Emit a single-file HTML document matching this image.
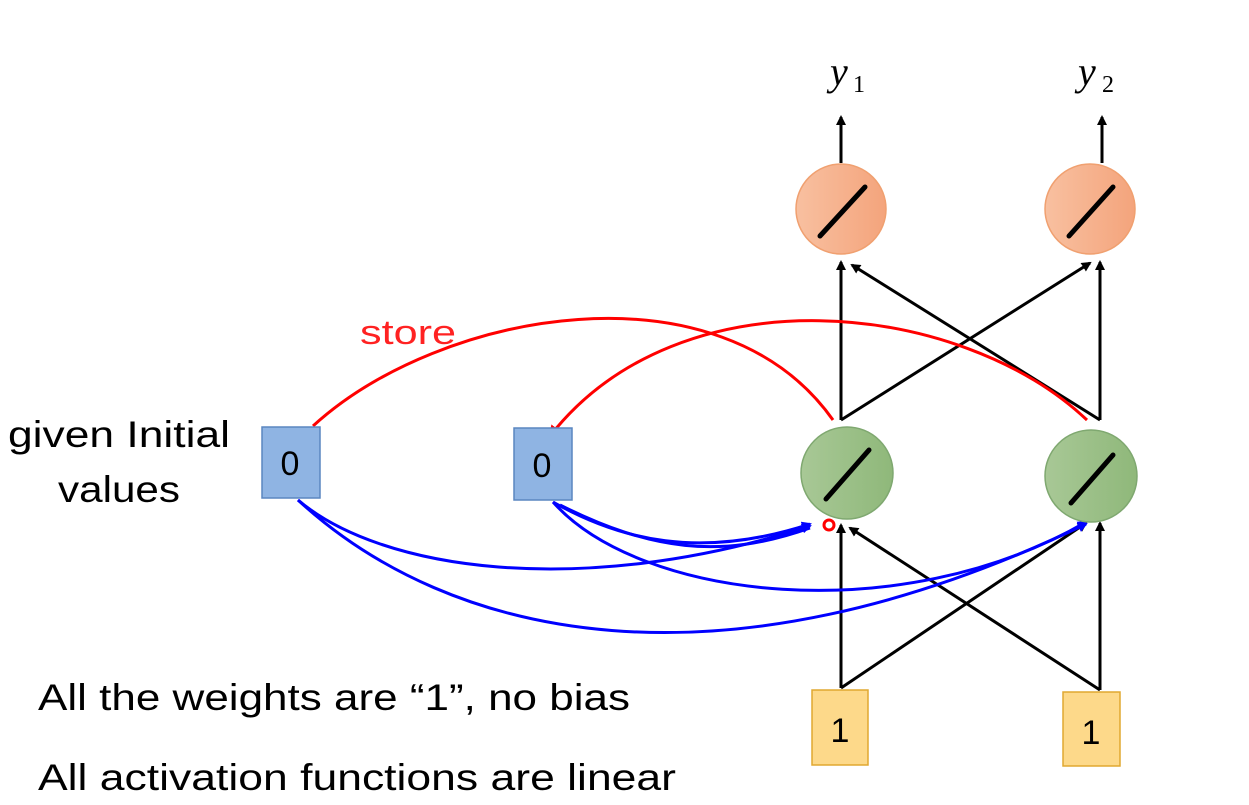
<!DOCTYPE html>
<html><head><style>
body{margin:0;background:#fff;width:1249px;height:800px;overflow:hidden;font-family:"Liberation Sans",sans-serif}
</style></head><body>
<svg width="1249" height="800" viewBox="0 0 1249 800" xmlns="http://www.w3.org/2000/svg">
<defs>
<marker id="ak" markerWidth="10" markerHeight="10" refX="8" refY="5" orient="auto" markerUnits="userSpaceOnUse"><path d="M0,0 L10,5 L0,10 z" fill="#000"/></marker>
<marker id="ar" markerWidth="12" markerHeight="12" refX="10" refY="6" orient="auto" markerUnits="userSpaceOnUse"><path d="M0,0 L12,6 L0,12 z" fill="#f00"/></marker>
<marker id="ab" markerWidth="10" markerHeight="10" refX="8" refY="5" orient="auto" markerUnits="userSpaceOnUse"><path d="M0,0 L10,5 L0,10 z" fill="#00f"/></marker>
<linearGradient id="og" x1="0" x2="1"><stop offset="0" stop-color="#f8c0a0"/><stop offset="1" stop-color="#f4a47c"/></linearGradient>
<linearGradient id="gg" x1="0" x2="1"><stop offset="0" stop-color="#a8c896"/><stop offset="1" stop-color="#8fb87a"/></linearGradient>
</defs>
<g stroke="#000" stroke-width="3" fill="none">
<line x1="841" y1="163" x2="841" y2="117" marker-end="url(#ak)"/>
<line x1="1102" y1="163" x2="1102" y2="117" marker-end="url(#ak)"/>
<line x1="841" y1="420" x2="841" y2="262" marker-end="url(#ak)"/>
<line x1="841" y1="420" x2="1090" y2="263" marker-end="url(#ak)"/>
<line x1="1100" y1="420" x2="1100" y2="262" marker-end="url(#ak)"/>
<line x1="1100" y1="420" x2="852" y2="265" marker-end="url(#ak)"/>
<line x1="841" y1="688" x2="841" y2="525" marker-end="url(#ak)"/>
<line x1="841" y1="688" x2="1086" y2="523" marker-end="url(#ak)"/>
<line x1="1100" y1="690" x2="1100" y2="523" marker-end="url(#ak)"/>
<line x1="1100" y1="690" x2="850" y2="528" marker-end="url(#ak)"/>
</g>
<g stroke="#f00" stroke-width="3" fill="none">
<path d="M313,426 C440,310 720,260 833,420"/>
<path d="M1087,420 C960,300 680,270 550,436" marker-end="url(#ar)"/>
</g>
<g stroke="#00f" stroke-width="3" fill="none">
<path d="M298,500 C380,570 580,600 810,526" marker-end="url(#ab)"/>
<path d="M298,500 C450,640 720,700 1086,524" marker-end="url(#ab)"/>
<path d="M553,502 C620,540 700,560 810,524" marker-end="url(#ab)"/>
<path d="M553,502 C640,600 900,630 1086,522" marker-end="url(#ab)"/>
<path d="M560,505 C650,550 720,560 810,528"/>
</g>
<circle cx="841" cy="209" r="45" fill="url(#og)" stroke="#f0a070" stroke-width="1.5"/>
<circle cx="1090" cy="209" r="45" fill="url(#og)" stroke="#f0a070" stroke-width="1.5"/>
<circle cx="847" cy="473" r="46" fill="url(#gg)" stroke="#7fa870" stroke-width="1.5"/>
<circle cx="1091" cy="476" r="46" fill="url(#gg)" stroke="#7fa870" stroke-width="1.5"/>
<g stroke="#000" stroke-width="5" stroke-linecap="round">
<line x1="820" y1="236" x2="865" y2="187"/><line x1="1069" y1="236" x2="1113" y2="187"/>
<line x1="826" y1="499" x2="869" y2="450"/><line x1="1071" y1="503" x2="1113" y2="455"/>
</g>
<circle cx="829" cy="525" r="5" fill="none" stroke="#f00" stroke-width="3"/>
<rect x="262" y="427" width="58" height="71" fill="#8fb4e3" stroke="#5a86c0" stroke-width="1.5"/>
<rect x="514" y="428" width="58" height="72" fill="#8fb4e3" stroke="#5a86c0" stroke-width="1.5"/>
<rect x="812" y="690" width="56" height="75" fill="#fdd98a" stroke="#e0a830" stroke-width="1.5"/>
<rect x="1063" y="692" width="57" height="74" fill="#fdd98a" stroke="#e0a830" stroke-width="1.5"/>
<g font-size="34" fill="#000" text-anchor="middle">
<text x="290" y="475">0</text><text x="542" y="477">0</text>
<text x="840" y="742">1</text><text x="1091" y="744">1</text>
</g>
<g font-family="Liberation Serif,serif" font-style="italic" font-size="40">
<text x="830" y="85">y</text><text x="1078" y="85">y</text>
</g>
<g font-family="Liberation Serif,serif" font-size="24"><text x="853" y="92">1</text><text x="1102" y="92">2</text></g>
<text x="360" y="344" font-size="34" fill="#f22" textLength="96" lengthAdjust="spacingAndGlyphs">store</text>
<g font-size="37" fill="#000">
<text x="8" y="447" textLength="222" lengthAdjust="spacingAndGlyphs">given Initial</text>
<text x="58" y="502" textLength="122" lengthAdjust="spacingAndGlyphs">values</text>
<text x="38" y="710" textLength="592" lengthAdjust="spacingAndGlyphs">All the weights are “1”, no bias</text>
<text x="38" y="790" textLength="638" lengthAdjust="spacingAndGlyphs">All activation functions are linear</text>
</g>
</svg>
</body></html>
